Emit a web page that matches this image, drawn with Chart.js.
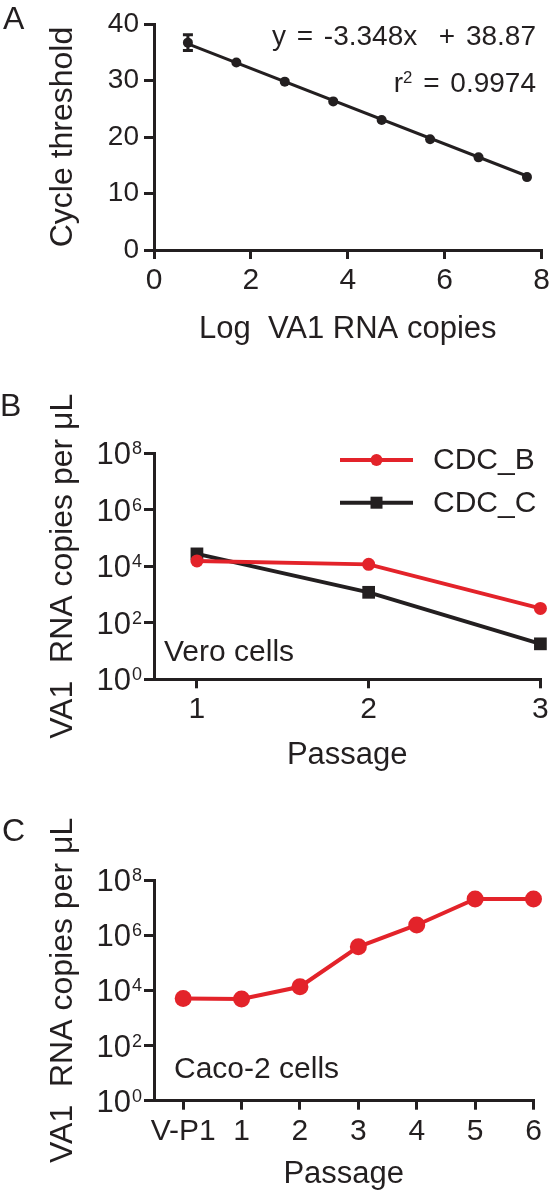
<!DOCTYPE html>
<html>
<head>
<meta charset="utf-8">
<script src="https://cdn.jsdelivr.net/npm/chart.js@4.4.0/dist/chart.umd.min.js"></script>
<style>
    body { margin: 0; background: #fff; width: 550px; height: 1194px; position: relative; overflow: hidden;
           font-family: "Liberation Sans", Arial, sans-serif; color: #231f20; }
    canvas { position: absolute; left: 0; }
    .lbl { position: absolute; line-height: 1; white-space: pre; }
    .lbl sup { font-size: 60%; vertical-align: 0; position: relative; top: -0.55em; }
</style>
</head>
<body>
<canvas id="chartA" width="550" height="350" style="top:0px"></canvas>
<canvas id="chartB" width="550" height="425" style="top:350px"></canvas>
<canvas id="chartC" width="550" height="419" style="top:775px"></canvas>

<div class="lbl" style="left:3px; top:2px; font-size:32px">A</div>
<div class="lbl" style="left:0px; top:389px; font-size:32px">B</div>
<div class="lbl" style="left:2px; top:814px; font-size:32px">C</div>
<div class="lbl" style="right:14px; top:22px; font-size:28px; word-spacing:3px">y = -3.348x  + 38.87</div>
<div class="lbl" style="right:14px; top:69px; font-size:28px; word-spacing:3px">r<sup>2</sup> = 0.9974</div>
<div class="lbl" style="left:164px; top:636px; font-size:30px">Vero cells</div>
<div class="lbl" style="left:174px; top:1053px; font-size:30px">Caco-2 cells</div>

<script>
// PANEL A DATA (standard curve)
const logCopies = [0.7, 1.7, 2.7, 3.7, 4.7, 5.7, 6.7, 7.7];
const cycleThreshold = [36.7, 33.2, 29.8, 26.3, 23.0, 19.6, 16.4, 12.9];
const cycleError = [1.4, 0, 0, 0, 0, 0, 0, 0];
const fitX = [0.7, 7.7];
const fitY = [36.5, 13.1];
const ticksAX = [0, 2, 4, 6, 8];
const ticksAY = [0, 10, 20, 30, 40];

// PANEL B DATA (Vero cells)
const passagesB = [1, 2, 3];
const cdcB = [15500, 11700, 324];
const cdcC = [27500, 1200, 18];

// PANEL C DATA (Caco-2 cells)
const passageLabelsC = ["V-P1", "1", "2", "3", "4", "5", "6"];
const caco2 = [5100, 4900, 13500, 380000, 2340000, 20500000, 20500000];

const logTicks = [1, 1e2, 1e4, 1e6, 1e8];

const INK = "#231f20";
const RED = "#e3232a";
const FONT = "'Liberation Sans', Arial, sans-serif";

function toPoints(xs, ys) {
    return xs.map(function (x, i) { return { x: x, y: ys[i] }; });
}

// X AXIS
function xAxis(min, max, tickVals, height, titleText, titlePad, labelPad, labelFn) {
    return {
        type: "linear",
        position: "bottom",
        min: min,
        max: max,
        afterBuildTicks: function (s) { s.ticks = tickVals.map(function (v) { return { value: v }; }); },
        afterFit: function (s) { s.height = height; s.paddingLeft = 0; s.paddingRight = 0; },
        ticks: {
            color: INK, font: { family: FONT, size: 30 }, padding: labelPad,
            maxRotation: 0, autoSkip: false,
            callback: labelFn || function (v) { return v; },
        },
        grid: { drawOnChartArea: false, tickLength: 9, lineWidth: 3, color: INK },
        border: { width: 3, color: INK },
        title: { display: true, text: titleText, color: INK, font: { family: FONT, size: 31 }, padding: { top: 0, bottom: titlePad } },
    };
}

// Y AXIS
function yAxis(type, min, max, tickVals, titleText, showLabels) {
    return {
        type: type,
        position: "left",
        min: min,
        max: max,
        afterBuildTicks: function (s) { s.ticks = tickVals.map(function (v) { return { value: v }; }); },
        afterFit: function (s) { s.width = 154; s.paddingTop = 0; s.paddingBottom = 0; },
        ticks: {
            color: INK, font: { family: FONT, size: 28 }, padding: 5, autoSkip: false,
            callback: function (v) { return showLabels ? v : ""; },
        },
        grid: { drawOnChartArea: false, tickLength: 10, lineWidth: 3, color: INK },
        border: { width: 3, color: INK },
        title: { display: true, text: titleText, color: INK, font: { family: FONT, size: 32 }, padding: { top: 44, bottom: 0 } },
    };
}

// 10^n TICK LABELS
const powerLabels = {
    id: "powerLabels",
    afterDraw: function (chart) {
        const s = chart.scales.y;
        if (s.type !== "logarithmic") return;
        const ctx = chart.ctx;
        ctx.save();
        ctx.fillStyle = INK;
        ctx.textAlign = "right";
        ctx.textBaseline = "alphabetic";
        s.ticks.forEach(function (t) {
            const y = s.getPixelForValue(t.value);
            const exp = String(Math.round(Math.log10(t.value)));
            ctx.font = "18px " + FONT;
            const right = s.right - 12;
            ctx.fillText(exp, right, y + 1);
            const w = ctx.measureText(exp).width;
            ctx.font = "31px " + FONT;
            ctx.fillText("10", right - w - 1, y + 11);
        });
        ctx.restore();
    },
};

// ERROR BARS
const errorBars = {
    id: "errorBars",
    afterDatasetsDraw: function (chart) {
        const xs = chart.scales.x, ys = chart.scales.y, ctx = chart.ctx;
        ctx.save();
        ctx.strokeStyle = INK;
        ctx.lineWidth = 3;
        logCopies.forEach(function (x, i) {
            if (!cycleError[i]) return;
            const px = xs.getPixelForValue(x);
            const top = ys.getPixelForValue(cycleThreshold[i] + cycleError[i]);
            const bot = ys.getPixelForValue(cycleThreshold[i] - cycleError[i]);
            ctx.beginPath();
            ctx.moveTo(px, top); ctx.lineTo(px, bot);
            ctx.moveTo(px - 5, top); ctx.lineTo(px + 5, top);
            ctx.moveTo(px - 5, bot); ctx.lineTo(px + 5, bot);
            ctx.stroke();
        });
        ctx.restore();
    },
};

// LINE + MARKER LEGEND
const lineLegend = {
    id: "lineLegend",
    afterDraw: function (chart) {
        const ctx = chart.ctx;
        ctx.save();
        chart.data.datasets.forEach(function (ds, i) {
            const y = 110 + i * 42.7;
            ctx.strokeStyle = ds.borderColor;
            ctx.lineWidth = ds.borderWidth;
            ctx.beginPath();
            ctx.moveTo(340, y); ctx.lineTo(413, y);
            ctx.stroke();
            ctx.fillStyle = ds.pointBackgroundColor;
            if (ds.pointStyle === "rect") {
                ctx.fillRect(376.5 - 6, y - 6, 12, 12);
            } else {
                ctx.beginPath();
                ctx.arc(376.5, y, 6, 0, Math.PI * 2);
                ctx.fill();
            }
            ctx.fillStyle = INK;
            ctx.font = "30px " + FONT;
            ctx.textAlign = "left";
            ctx.textBaseline = "middle";
            ctx.fillText(ds.label, 433, y + 1);
        });
        ctx.restore();
    },
};

// PANEL A
function panelA() {
    new Chart(document.getElementById("chartA"), {
        type: "scatter",
        data: {
            datasets: [
                {
                    data: toPoints(logCopies, cycleThreshold),
                    pointRadius: 5, pointBackgroundColor: INK, pointBorderWidth: 0,
                    showLine: false, clip: false,
                },
                {
                    data: toPoints(fitX, fitY),
                    showLine: true, borderColor: INK, borderWidth: 3, pointRadius: 0, clip: false,
                },
            ],
        },
        options: {
            responsive: false, animation: false, devicePixelRatio: 1,
            layout: { padding: { left: 0, top: 24, right: 8.5, bottom: 0 } },
            plugins: { legend: { display: false }, tooltip: { enabled: false } },
            scales: {
                x: xAxis(0, 8, ticksAX, 100, "Log  VA1 RNA copies", 2, 4),
                y: yAxis("linear", 0, 40, ticksAY, "Cycle threshold", true),
            },
        },
        plugins: [errorBars],
    });
}

// PANEL B
function panelB() {
    new Chart(document.getElementById("chartB"), {
        type: "line",
        data: {
            datasets: [
                {
                    label: "CDC_B", data: toPoints(passagesB, cdcB),
                    borderColor: RED, borderWidth: 4, pointBackgroundColor: RED, pointBorderWidth: 0,
                    pointStyle: "circle", pointRadius: 6.5, clip: false,
                },
                {
                    label: "CDC_C", data: toPoints(passagesB, cdcC),
                    borderColor: INK, borderWidth: 4, pointBackgroundColor: INK, pointBorderWidth: 0,
                    pointStyle: "rect", pointRadius: 9, clip: false,
                },
            ],
        },
        options: {
            responsive: false, animation: false, devicePixelRatio: 1,
            layout: { padding: { left: 0, top: 103.3, right: 9.6, bottom: 0 } },
            plugins: { legend: { display: false }, tooltip: { enabled: false } },
            scales: {
                x: xAxis(0.75, 3, passagesB, 95.7, "Passage", 1, 3),
                y: yAxis("logarithmic", 1, 1e8, logTicks, "VA1  RNA copies per \u03bcL", false),
            },
        },
        plugins: [powerLabels, lineLegend],
    });
}

// PANEL C
function panelC() {
    new Chart(document.getElementById("chartC"), {
        type: "line",
        data: {
            datasets: [
                {
                    data: toPoints(passageLabelsC.map(function (l, i) { return i; }), caco2),
                    borderColor: RED, borderWidth: 4, pointBackgroundColor: RED, pointBorderWidth: 0,
                    pointRadius: 8.5, clip: false,
                },
            ],
        },
        options: {
            responsive: false, animation: false, devicePixelRatio: 1,
            layout: { padding: { left: 0, top: 105, right: 16.5, bottom: 0 } },
            plugins: { legend: { display: false }, tooltip: { enabled: false } },
            scales: {
                x: xAxis(-0.5, 6, [0, 1, 2, 3, 4, 5, 6], 93.3, "Passage", 1, 4, function (v) { return passageLabelsC[v]; }),
                y: yAxis("logarithmic", 1, 1e8, logTicks, "VA1  RNA copies per \u03bcL", false),
            },
        },
        plugins: [powerLabels],
    });
}

panelA();
panelB();
panelC();
</script>
</body>
</html>
